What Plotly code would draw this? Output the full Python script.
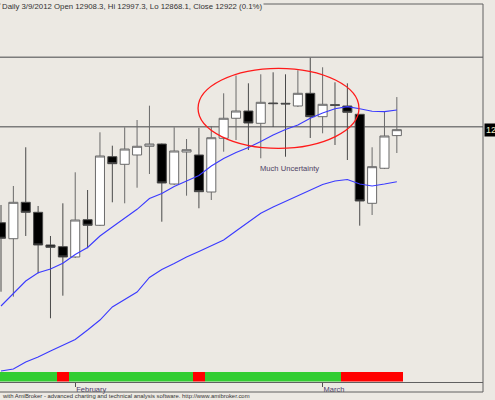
import plotly.graph_objects as go

# ---- data ----
dates = ["2012-01-24", "2012-01-25", "2012-01-26", "2012-01-27", "2012-01-30", "2012-01-31",
         "2012-02-01", "2012-02-02", "2012-02-03", "2012-02-06", "2012-02-07", "2012-02-08",
         "2012-02-09", "2012-02-10", "2012-02-13", "2012-02-14", "2012-02-15", "2012-02-16",
         "2012-02-17", "2012-02-21", "2012-02-22", "2012-02-23", "2012-02-24", "2012-02-27",
         "2012-02-28", "2012-02-29", "2012-03-01", "2012-03-02", "2012-03-05", "2012-03-06",
         "2012-03-07", "2012-03-08", "2012-03-09"]
bar_index = list(range(len(dates)))

opens = [12707.1, 12670.1, 12754.2, 12731.1, 12655.6, 12651.7, 12627.9, 12714.0, 12701.1, 12859.6,
         12842.0, 12863.5, 12883.6, 12888.9, 12796.5, 12870.4, 12863.5, 12778.0, 12902.1, 12948.3,
         12965.1, 12936.7, 12983.6, 12982.9, 12976.7, 13006.0, 12952.0, 12979.7, 12976.7, 12957.5,
         12751.9, 12832.8, 12908.3]
highs = [12748.0, 12791.9, 12881.3, 12745.7, 12676.4, 12751.9, 12823.5, 12782.6, 12915.9, 12885.0,
         12927.5, 12944.3, 12977.4, 12890.0, 12927.5, 12900.4, 12926.3, 12930.5, 13006.0, 13047.1,
         13029.1, 13049.9, 13054.5, 13049.9, 13059.1, 13088.0, 13066.1, 13031.4, 13029.1, 12958.2,
         12881.3, 12963.5, 12997.3]
lows = [12547.7, 12536.2, 12676.4, 12590.2, 12486.3, 12538.5, 12625.6, 12648.0, 12699.5, 12754.2,
        12751.9, 12787.9, 12819.6, 12709.4, 12794.2, 12769.5, 12740.4, 12759.5, 12871.1, 12898.1,
        12875.0, 12855.9, 12928.2, 12859.5, 12974.4, 12902.8, 12913.6, 12886.6, 12851.9, 12700.2,
        12724.9, 12831.1, 12868.1]
closes = [12671.1, 12754.2, 12731.1, 12655.6, 12650.3, 12627.9, 12713.3, 12701.1, 12861.2, 12843.4,
          12877.3, 12883.6, 12888.9, 12798.8, 12872.7, 12875.7, 12778.7, 12903.4, 12948.3, 12965.1,
          12937.4, 12985.2, 12982.2, 12981.5, 13006.0, 12952.0, 12980.6, 12978.3, 12962.1, 12757.2,
          12836.5, 12907.4, 12922.0]

ma_fast = [12514.7, 12544.0, 12572.4, 12591.6, 12600.1, 12613.3, 12633.6, 12649.8, 12676.4, 12697.2,
           12717.9, 12738.0, 12762.8, 12774.5, 12790.7, 12803.4, 12816.1, 12838.1, 12855.4, 12869.3,
           12880.8, 12894.7, 12909.7, 12922.4, 12932.8, 12948.3, 12960.5, 12970.4, 12975.1, 12970.2,
           12964.7, 12963.7, 12967.4]
ma_slow = [12364.5, 12369.1, 12385.3, 12396.9, 12410.7, 12423.4, 12437.3, 12459.2, 12482.3, 12512.4,
           12529.7, 12547.0, 12580.5, 12599.0, 12612.8, 12627.9, 12640.6, 12653.3, 12667.1, 12687.9,
           12708.7, 12728.8, 12743.4, 12756.1, 12768.8, 12782.6, 12795.3, 12803.4, 12806.9, 12796.5,
           12791.9, 12796.5, 12801.8]

ribbon_state = ["up", "up", "up", "up", "up", "down", "up", "up", "up", "up",
                "up", "up", "up", "up", "up", "up", "down", "up", "up", "up",
                "up", "up", "up", "up", "up", "up", "up", "up", "down", "down",
                "down", "down", "down"]

level_lines = [13089.2, 12928.9]
ellipse_x = [15.93, 28.94]
ellipse_y = [12879.0, 13063.8]
note_text = "Much Uncertainty"
note_pos = [23.3, 12833.4]

month_ticks = [6, 26]
month_labels = ["February", "March"]

title_text = "Daily 3/9/2012 Open 12908.3, Hi 12997.3, Lo 12868.1, Close 12922 (0.1%)"
footer_text = "with AmiBroker - advanced charting and technical analysis software. http://www.amibroker.com"
last_label = "12922"

# ---- styling ----
BG = "#ECE9E3"
FONT = "Liberation Sans"
W, H = 495, 400
PLOT_RIGHT = 483 / W

ribbon_colors = ["#32CD32" if s == "up" else "#FF0000" for s in ribbon_state]

fig = go.Figure()

fig.add_trace(go.Bar(
    x=bar_index, y=[1] * len(bar_index), width=1.0,
    marker=dict(color=ribbon_colors, line=dict(width=0)),
    xaxis="x", yaxis="y2", hoverinfo="skip", showlegend=False,
))

fig.add_trace(go.Scatter(
    x=bar_index, y=ma_slow, mode="lines",
    line=dict(color="#3a3aff", width=1.1), showlegend=False, hoverinfo="skip",
))
fig.add_trace(go.Scatter(
    x=bar_index, y=ma_fast, mode="lines",
    line=dict(color="#3a3aff", width=1.1), showlegend=False, hoverinfo="skip",
))

fig.add_trace(go.Candlestick(
    x=bar_index, open=opens, high=highs, low=lows, close=closes,
    increasing=dict(fillcolor="#FFFFFF", line=dict(color="#6a6a6a", width=1)),
    decreasing=dict(fillcolor="#000000", line=dict(color="#4a4a4a", width=1)),
    whiskerwidth=0, showlegend=False, hoverinfo="skip",
))

shapes = []
for lv in level_lines:
    shapes.append(dict(type="line", xref="x domain", yref="y", x0=0, x1=1, y0=lv, y1=lv,
                       line=dict(color="#7c7c7c", width=1.5), layer="below"))
shapes.append(dict(type="circle", xref="x", yref="y",
                   x0=ellipse_x[0], x1=ellipse_x[1], y0=ellipse_y[0], y1=ellipse_y[1],
                   line=dict(color="#FF1a1a", width=1.3)))
# frame
shapes.append(dict(type="line", xref="paper", yref="paper", x0=0, x1=PLOT_RIGHT,
                   y0=(H - 4) / H, y1=(H - 4) / H, line=dict(color="#606060", width=1)))
shapes.append(dict(type="line", xref="paper", yref="paper", x0=0, x1=PLOT_RIGHT,
                   y0=(H - 392) / H, y1=(H - 392) / H, line=dict(color="#606060", width=1)))
shapes.append(dict(type="line", xref="paper", yref="paper", x0=PLOT_RIGHT, x1=PLOT_RIGHT,
                   y0=(H - 392) / H, y1=(H - 4) / H, line=dict(color="#606060", width=1)))

annotations = [
    dict(text=title_text, xref="paper", yref="paper", x=0, y=(H - 6.5) / H,
         xanchor="left", yanchor="middle", showarrow=False, bgcolor=BG, borderpad=1,
         font=dict(family=FONT, size=7.8, color="#333333")),
    dict(text=footer_text, xref="paper", yref="paper", x=0, y=(H - 396) / H,
         xanchor="left", yanchor="middle", showarrow=False,
         font=dict(family=FONT, size=5.9, color="#333333")),
    dict(text=note_text, xref="x", yref="y", x=note_pos[0], y=note_pos[1],
         xanchor="center", yanchor="middle", showarrow=False,
         font=dict(family=FONT, size=7.6, color="#4d3f63")),
    dict(text=last_label, xref="paper", yref="y", x=484 / W, y=closes[-1],
         xanchor="left", yanchor="middle", showarrow=False, bgcolor="#000000", borderpad=1,
         font=dict(family=FONT, size=9, color="#F5F0C8")),
]

x0 = -1 / 12.37
x1 = x0 + 483 / 12.37
ppx = 2.31
y_top = 12868.1 + ppx * (153 - 4)
y_bot = 12868.1 - ppx * (372 - 153)

fig.update_layout(
    width=W, height=H,
    margin=dict(l=0, r=0, t=0, b=0, pad=0),
    paper_bgcolor=BG, plot_bgcolor=BG,
    showlegend=False, boxgap=0.27, boxgroupgap=0, bargap=0,
    xaxis=dict(domain=[0, PLOT_RIGHT], range=[x0, x1], anchor="y2",
               showgrid=False, zeroline=False, showline=True, linecolor="#606060", linewidth=1,
               ticks="outside", ticklen=4, tickcolor="#505050", tickwidth=1,
               tickvals=month_ticks, ticktext=month_labels,
               ticklabelposition="outside right",
               tickfont=dict(family=FONT, size=7.5, color="#4b3b6b"),
               rangeslider=dict(visible=False), fixedrange=True),
    yaxis=dict(domain=[(H - 372) / H, (H - 4) / H], range=[y_bot, y_top],
               showgrid=False, zeroline=False, showticklabels=False, showline=False,
               fixedrange=True),
    yaxis2=dict(domain=[(H - 381.5) / H, (H - 372) / H], range=[0, 1],
                showgrid=False, zeroline=False, showticklabels=False, showline=False,
                fixedrange=True),
    shapes=shapes,
    annotations=annotations,
    font=dict(family=FONT),
)

fig.write_html(
    "out.html",
    config={"displayModeBar": False},
    post_script="document.body.style.margin='0px';document.body.style.overflow='hidden';",
)
